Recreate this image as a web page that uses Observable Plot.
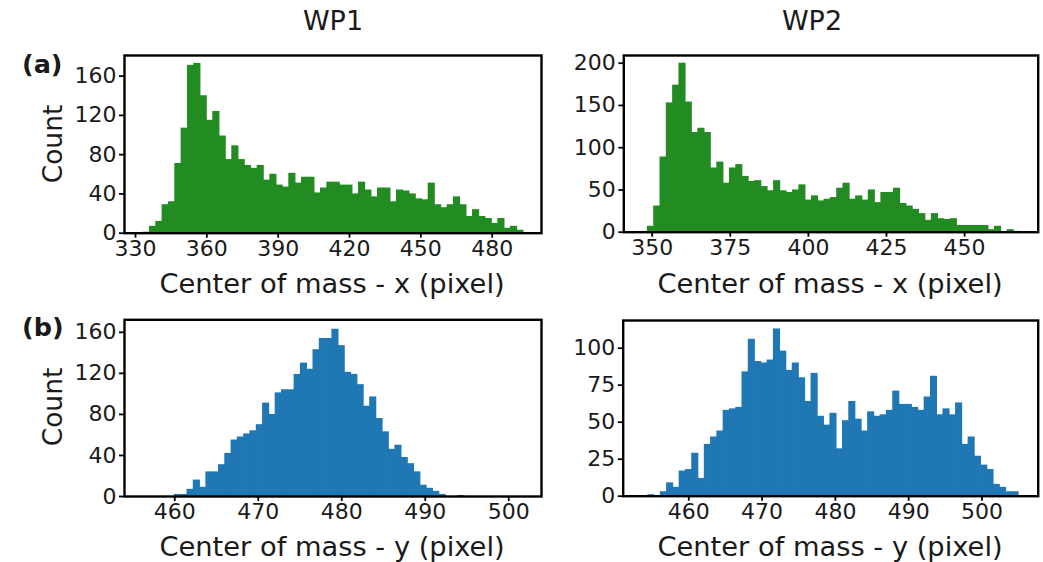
<!DOCTYPE html>
<html><head><meta charset="utf-8">
<script src="https://cdn.jsdelivr.net/npm/d3@7"></script>
<script src="https://cdn.jsdelivr.net/npm/@observablehq/plot@0.6"></script>
<style>
html,body{margin:0;padding:0;background:#fff;}
#fig{position:relative;width:1043px;height:562px;overflow:hidden;font-family:"DejaVu Sans",sans-serif;color:#1a1a1a;background:#fff;}
.t{position:absolute;white-space:nowrap;line-height:1;}
</style></head><body><div id="fig"></div>
<script>
// ---- data (histogram counts, 60 bins each) ----
const columnTitles = ["WP1", "WP2"];
const rowLabels = ["(a)", "(b)"];
const xLabelTop = "Center of mass - x (pixel)";
const xLabelBottom = "Center of mass - y (pixel)";
const yLabel = "Count";

// WP1, center of mass x
const wp1XBinStart = 333.37, wp1XBinWidth = 2.664;
const wp1XCounts = [1,7,12,29,32,71,107,171,173,140,115,124,99,75,89,75,69,66,69,54,60,49,47,61,51,57,57,41,46,52,52,49,49,40,52,44,37,46,46,32,44,43,40,35,34,51,29,26,29,37,29,17,24,17,15,10,15,5,7,3];
// WP2, center of mass x
const wp2XBinStart = 346.57, wp2XBinWidth = 2.02;
const wp2XCounts = [1,7,31,89,153,174,200,154,118,123,118,76,83,58,76,80,66,60,61,54,49,61,49,47,50,56,38,43,37,39,41,52,58,39,43,38,50,35,47,47,52,34,31,27,22,14,22,16,15,16,8,8,8,8,8,3,7,0,3,1];
// WP1, center of mass y
const wp1YBinStart = 456.23, wp1YBinWidth = 0.7545;
const wp1YCounts = [0,0,0,0,0,2,2,7,16,9,24,24,31,42,55,58,61,64,70,91,80,101,104,104,119,130,124,143,154,154,163,147,121,119,109,88,97,76,63,46,50,38,32,24,11,8,5,2,0,0,1,0,0,0,0,0,0,0,0,0];
// WP2, center of mass y
const wp2YBinStart = 453.6, wp2YBinWidth = 0.857;
const wp2YCounts = [0,1,0,3,9,6,17,18,29,12,35,40,44,58,59,60,84,106,91,90,92,113,98,85,90,80,64,83,54,48,56,32,51,64,52,44,57,54,55,58,71,62,62,60,58,67,81,55,59,55,63,35,40,27,21,18,8,6,3,3];

// tick values
const wp1XTicks = [330,360,390,420,450,480];
const wp2XTicks = [350,375,400,425,450];
const wp1YTicks = [460,470,480,490,500];
const wp2YTicks = [460,470,480,490,500];
const countTicksA1 = [0,40,80,120,160];
const countTicksA2 = [0,50,100,150,200];
const countTicksB1 = [0,40,80,120,160];
const countTicksB2 = [0,25,50,75,100];

const GREEN = "#228b22", BLUE = "#1f77b4";
const fig = document.getElementById("fig");

function bins(start, step, counts) {
  return counts.map((c, i) => ({x1: start + i * step, x2: start + (i + 1) * step, count: c}));
}

function panel(cfg) {
  const data = bins(cfg.start, cfg.step, cfg.counts).filter(d => d.count > 0);
  const chart = Plot.plot({
    width: cfg.sw, height: cfg.sh,
    marginLeft: cfg.fl - cfg.sx, marginRight: cfg.sx + cfg.sw - cfg.fr,
    marginTop: cfg.ft - cfg.sy, marginBottom: cfg.sy + cfg.sh - cfg.fb,
    x: {domain: cfg.xDomain},
    y: {domain: cfg.yDomain},
    style: {fontFamily: '"DejaVu Sans", sans-serif', fontSize: "22px", color: "#1a1a1a", background: "transparent", overflow: "visible"},
    marks: [
      Plot.rectY(data, {x1: "x1", x2: "x2", y: "count", fill: cfg.color, insetLeft: -0.4, insetRight: -0.4}),
      Plot.axisX({ticks: cfg.xTicks, tickSize: 5, tickPadding: 2, strokeWidth: 1.8, stroke: "black", label: null}),
      Plot.axisY({ticks: cfg.yTicks, tickSize: 5, tickPadding: 3, strokeWidth: 1.8, stroke: "black", label: null}),
      Plot.frame({stroke: "black", strokeWidth: 2.4})
    ]
  });
  chart.style.position = "absolute";
  chart.style.left = cfg.sx + "px";
  chart.style.top = cfg.sy + "px";
  chart.style.maxWidth = "none";
  fig.appendChild(chart);
}

panel({sx: 0, sy: 40, sw: 560, sh: 235, fl: 124, fr: 541, ft: 55, fb: 232.7,
  xDomain: [325.37, 500.74], yDomain: [0, 181], start: wp1XBinStart, step: wp1XBinWidth,
  counts: wp1XCounts, xTicks: wp1XTicks, yTicks: countTicksA1, color: GREEN});
panel({sx: 560, sy: 40, sw: 483, sh: 235, fl: 623.3, fr: 1037.7, ft: 55, fb: 231.7,
  xDomain: [340.91, 473.56], yDomain: [0, 209.1], start: wp2XBinStart, step: wp2XBinWidth,
  counts: wp2XCounts, xTicks: wp2XTicks, yTicks: countTicksA2, color: GREEN});
panel({sx: 0, sy: 300, sw: 560, sh: 235, fl: 124, fr: 541, ft: 319.3, fb: 496,
  xDomain: [453.98, 503.92], yDomain: [0, 172.2], start: wp1YBinStart, step: wp1YBinWidth,
  counts: wp1YCounts, xTicks: wp1YTicks, yTicks: countTicksB1, color: BLUE});
panel({sx: 560, sy: 300, sw: 483, sh: 235, fl: 622.7, fr: 1037.7, ft: 320, fb: 495.7,
  xDomain: [451.05, 507.67], yDomain: [0, 118.7], start: wp2YBinStart, step: wp2YBinWidth,
  counts: wp2YCounts, xTicks: wp2YTicks, yTicks: countTicksB2, color: BLUE});

function text(str, x, y, size, opts = {}) {
  const d = document.createElement("div");
  d.className = "t";
  d.textContent = str;
  d.style.left = x + "px";
  d.style.top = y + "px";
  d.style.fontSize = size + "px";
  if (opts.bold) d.style.fontWeight = "bold";
  d.style.transform = opts.transform || "translate(-50%,0)";
  fig.appendChild(d);
}
// column titles
text(columnTitles[0], 333, 7, 27);
text(columnTitles[1], 812, 7, 27);
// row labels
text(rowLabels[0], 22, 52, 25.5, {bold: true, transform: "none"});
text(rowLabels[1], 22, 315, 25.5, {bold: true, transform: "none"});
// y labels
text(yLabel, 53, 144, 26.5, {transform: "translate(-50%,-50%) rotate(-90deg)"});
text(yLabel, 53, 407, 26.5, {transform: "translate(-50%,-50%) rotate(-90deg)"});
// x labels
text(xLabelTop, 332, 270, 27.3);
text(xLabelTop, 830, 270, 27.3);
text(xLabelBottom, 332, 533, 27.3);
text(xLabelBottom, 830, 533, 27.3);
</script></body></html>
